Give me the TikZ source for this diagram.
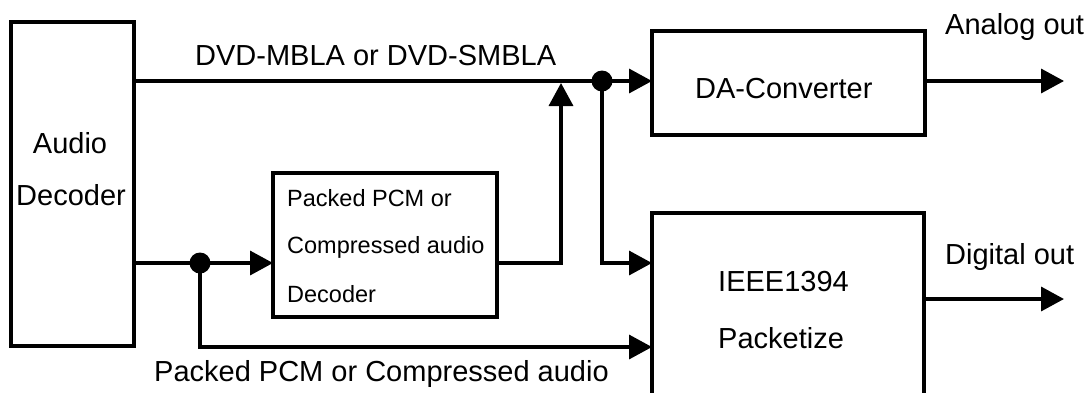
\documentclass[tikz,border=0pt]{standalone}
\usepackage{fontspec}
\setmainfont{Liberation Sans}
\usetikzlibrary{arrows.meta}
\begin{document}
\begin{tikzpicture}[x=1pt,y=-1pt,
  blk/.style={draw, line width=3.5pt, inner sep=0pt, outer sep=0pt},
  wire/.style={line width=3.5pt},
  conn/.style={line width=3.5pt, -{Triangle[length=23pt,width=24pt]}},
  lab/.style={font=\fontsize{29}{34}\selectfont, inner sep=0pt, anchor=base west},
  small/.style={font=\fontsize{23.5}{28}\selectfont, inner sep=0pt, anchor=base west}]
\useasboundingbox (0,0) rectangle (1091,392);
\clip (0,0) rectangle (1091,392);
\fill[white] (0,0) rectangle (1091,392);

% blocks
\node[blk, minimum width=123pt, minimum height=324pt] (audio) at (72.5,184) {};
\node[blk, minimum width=273pt, minimum height=104pt] (da) at (788.5,83) {};
\node[blk, minimum width=224pt, minimum height=144pt] (packed) at (385,245) {};
\node[blk, minimum width=272pt, minimum height=190pt] (ieee) at (788,308) {};

% coordinates
\coordinate (j1) at (602,81);
\coordinate (j2) at (200,263);
\coordinate (lowy) at (0,347);
\coordinate (upt) at (561,83);
\coordinate (aout) at (1064,81);
\coordinate (dout) at (1064,299);

% connectors
\draw[wire] (audio.east |- j1) -- (j1);
\draw[conn] (j1) -- (da.west |- j1);
\draw[wire] (audio.east |- j2) -- (j2);
\draw[conn] (j2) -- (packed.west |- j2);
\draw[conn] (j2) |- (ieee.west |- lowy);
\draw[conn] (packed.east |- j2) -| (upt);
\draw[conn] (j1) |- (ieee.west |- j2);
\draw[conn] (da.east |- j1) -- (aout);
\draw[conn] (ieee.east |- dout) -- (dout);
\fill (j1) circle (10.5pt);
\fill (j2) circle (10.5pt);

% texts
\node[lab] (tdvd) at (195,65) {DVD-MBLA or DVD-SMBLA};
\node[lab, anchor=base] (taudio) at (70,153) {Audio};
\node[lab, anchor=base] (tdec) at (71,205) {Decoder};
\node[small] (tp1) at (287,206) {Packed PCM or};
\node[small] (tp2) at (287,253) {Compressed audio};
\node[small] (tp3) at (287,302) {Decoder};
\node[lab] (tda) at (695,98) {DA-Converter};
\node[lab] (tieee) at (718,291) {IEEE1394};
\node[lab] (tpk) at (718,348) {Packetize};
\node[lab] (tao) at (945,34) {Analog out};
\node[lab] (tdo) at (945,264) {Digital out};
\node[lab] (tbot) at (154,381) {Packed PCM or Compressed audio};
\end{tikzpicture}
\end{document}
